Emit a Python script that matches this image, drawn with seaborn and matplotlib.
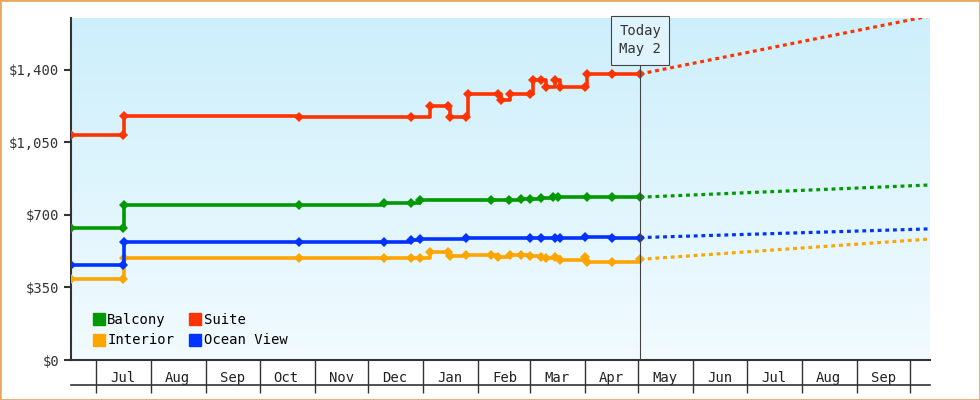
import numpy as np
import pandas as pd
import matplotlib
matplotlib.use("Agg")
import matplotlib.pyplot as plt
import matplotlib.dates as mdates
from matplotlib.lines import Line2D
from matplotlib.colors import LinearSegmentedColormap
import seaborn as sns

suite_dates = ["2023-06-17","2023-07-16","2023-07-17","2023-10-23","2023-12-25","2024-01-05","2024-01-15","2024-01-16","2024-01-25","2024-01-26","2024-02-12","2024-02-14","2024-02-19","2024-03-01","2024-03-03","2024-03-07","2024-03-10","2024-03-15","2024-03-18","2024-04-01","2024-04-02","2024-04-16","2024-05-02"]
suite_vals = [1085,1085,1180,1175,1175,1226,1226,1175,1175,1284,1284,1255,1284,1284,1352,1352,1320,1352,1320,1320,1381,1381,1381]

balcony_dates = ["2023-06-17","2023-07-16","2023-07-17","2023-10-23","2023-12-10","2023-12-25","2023-12-30","2024-02-08","2024-02-18","2024-02-25","2024-03-01","2024-03-07","2024-03-14","2024-03-17","2024-04-02","2024-04-16","2024-05-02"]
balcony_vals = [637,637,748,748,758,760,772,772,770,775,778,782,785,785,786,786,786]

ocean_dates = ["2023-06-17","2023-07-16","2023-07-17","2023-10-23","2023-12-10","2023-12-25","2023-12-30","2024-01-25","2024-03-01","2024-03-07","2024-03-15","2024-03-18","2024-04-01","2024-04-16","2024-05-02"]
ocean_vals = [459,459,570,568,568,579,584,589,591,591,591,591,594,591,591]

interior_dates = ["2023-06-17","2023-07-16","2023-07-17","2023-10-23","2023-12-10","2023-12-25","2023-12-30","2024-01-05","2024-01-15","2024-01-16","2024-01-25","2024-02-08","2024-02-12","2024-02-19","2024-02-25","2024-03-01","2024-03-07","2024-03-10","2024-03-15","2024-03-18","2024-04-01","2024-04-02","2024-04-16","2024-05-02"]
interior_vals = [391,391,493,492,490,490,492,521,521,502,507,507,497,505,505,503,496,490,496,482,496,473,473,486]

forecast_dates = ["2024-05-02","2024-10-12"]
forecast_suite = [1381,1661]
forecast_balcony = [786,845]
forecast_ocean = [591,633]
forecast_interior = [486,584]

today = "2024-05-02"
yticks = [0,350,700,1050,1400]

colors = {"Balcony":"#009900","Interior":"#ffa500","Suite":"#ff3300","Ocean View":"#0033ff"}

rows = []
for name, d, v in [("Balcony",balcony_dates,balcony_vals),("Interior",interior_dates,interior_vals),
                   ("Suite",suite_dates,suite_vals),("Ocean View",ocean_dates,ocean_vals)]:
    for a,b in zip(d,v):
        rows.append((name,pd.Timestamp(a),b))
df = pd.DataFrame(rows, columns=["cabin","date","price"])

frows=[]
for name, v in [("Balcony",forecast_balcony),("Interior",forecast_interior),("Suite",forecast_suite),("Ocean View",forecast_ocean)]:
    for a,b in zip(forecast_dates,v):
        frows.append((name,pd.Timestamp(a),b))
fdf = pd.DataFrame(frows, columns=["cabin","date","price"])

plt.rcParams["font.family"] = "DejaVu Sans Mono"
fig = plt.figure(figsize=(9.8,4.0), dpi=100)
ax = fig.add_axes([71/980, 40/400, (930-71)/980, (360-18)/400])

grad = np.linspace(0,1,256).reshape(-1,1)
cm = LinearSegmentedColormap.from_list("bg", ["#f2fbff","#cdeffb"])
ax.imshow(grad, extent=[0,1,0,1], transform=ax.transAxes, origin="lower", cmap=cm, aspect="auto", zorder=0)

sns.lineplot(data=fdf, x="date", y="price", hue="cabin", palette=colors, ax=ax,
             estimator=None, linewidth=2.3, linestyle=(0,(1.2,1.2)), legend=False, zorder=3)
sns.lineplot(data=df, x="date", y="price", hue="cabin", palette=colors, ax=ax,
             estimator=None, sort=False, drawstyle="steps-post", linewidth=2.6, marker="D",
             markersize=5.5, markeredgewidth=0, legend=False, zorder=4)

start = pd.Timestamp("2023-06-17"); end = pd.Timestamp("2024-10-12")
ax.set_xlim(start, end)
ax.set_ylim(0, 1651)
ax.set_yticks(yticks)
ax.set_yticklabels([f"${v:,}" for v in yticks])
ax.tick_params(axis="y", length=5, width=1.5, color="#333333", labelsize=10, labelcolor="#333333")

ax.xaxis.set_major_locator(mdates.MonthLocator())
ax.xaxis.set_major_formatter(plt.NullFormatter())
ax.xaxis.set_minor_locator(mdates.MonthLocator(bymonthday=16))
ax.xaxis.set_minor_formatter(mdates.DateFormatter("%b"))
ax.tick_params(axis="x", which="major", length=24, width=1, color="#333333", direction="out")
ax.tick_params(axis="x", which="minor", length=0, pad=8, labelsize=10, labelcolor="#222222")
ax.set_xlabel(""); ax.set_ylabel("")
for s in ["top","right"]:
    ax.spines[s].set_visible(False)
ax.spines["left"].set_color("#333333"); ax.spines["left"].set_linewidth(1.5)
ax.spines["bottom"].set_color("#333333"); ax.spines["bottom"].set_linewidth(1.5)

fig.add_artist(Line2D([71/980, 930/980], [1-385/400, 1-385/400], color="#333333", lw=1.2))

t = pd.Timestamp(today)
ax.axvline(t, color="#444444", lw=0.8, zorder=5)
ax.text(t, 0.935, "Today\nMay 2", transform=ax.get_xaxis_transform(), ha="center", va="center",
        fontsize=10, color="#333333", linespacing=1.4, zorder=6,
        bbox=dict(boxstyle="square,pad=0.6", fc="#dff4fc", ec="#444444", lw=0.8))

handles = [Line2D([],[],marker="s",ls="",color=colors[n],markersize=9,label=n)
           for n in ["Balcony","Interior","Suite","Ocean View"]]
ax.legend(handles=handles, ncol=2, loc="lower left", bbox_to_anchor=(0.01,0.0), frameon=False,
          handletextpad=0.1, columnspacing=1.0, fontsize=10, labelspacing=0.5, handlelength=1)

fig.add_artist(plt.Rectangle((0,0),1,1, transform=fig.transFigure, fill=False, ec="#e8a860", lw=2))
fig.savefig("out.png", dpi=100)
